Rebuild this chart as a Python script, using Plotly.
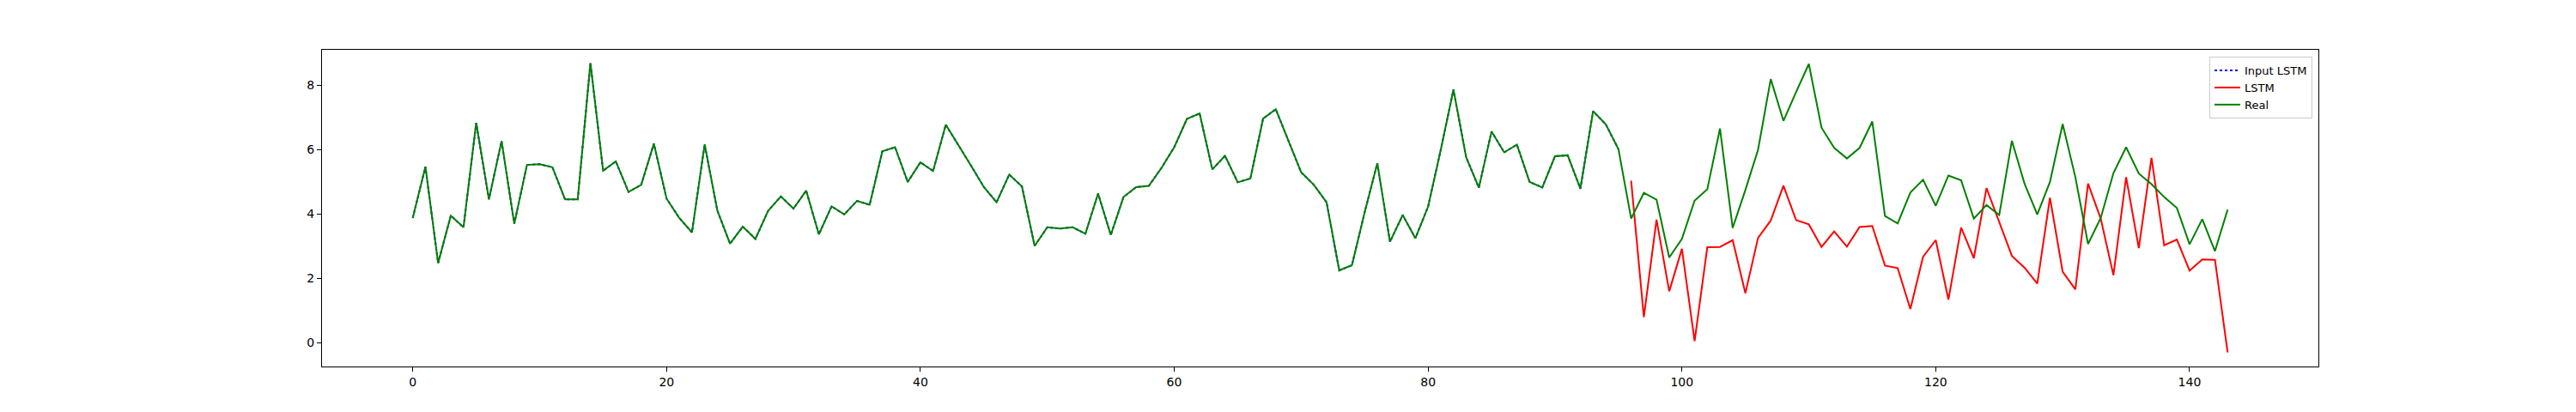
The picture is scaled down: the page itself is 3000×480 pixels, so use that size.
import plotly.graph_objects as go

# Real series, index 0..143
real = [3.88, 5.47, 2.48, 3.95, 3.59, 6.84, 4.46, 6.27, 3.70, 5.53,
        5.55, 5.46, 4.46, 4.46, 8.70, 5.35, 5.64, 4.69, 4.91, 6.19,
        4.48, 3.88, 3.43, 6.17, 4.11, 3.08, 3.61, 3.23, 4.10, 4.55,
        4.17, 4.73, 3.37, 4.24, 3.99, 4.41, 4.29, 5.95, 6.08, 5.00,
        5.61, 5.34, 6.78, 6.15, 5.50, 4.84, 4.37, 5.23, 4.86, 3.01,
        3.59, 3.55, 3.59, 3.39, 4.64, 3.35, 4.53, 4.84, 4.88, 5.44,
        6.08, 6.96, 7.13, 5.39, 5.81, 4.99, 5.11, 6.97, 7.26, 6.28,
        5.30, 4.91, 4.37, 2.25, 2.41, 4.05, 5.58, 3.14, 3.97, 3.25,
        4.23, 6.00, 7.87, 5.77, 4.82, 6.57, 5.92, 6.16, 5.00, 4.83,
        5.80, 5.83, 4.79, 7.20, 6.79, 6.02, 3.86, 4.66, 4.45, 2.65,
        3.23, 4.42, 4.77, 6.66, 3.57, 4.75, 6.00, 8.20, 6.90, 7.80,
        8.67, 6.69, 6.06, 5.73, 6.06, 6.88, 3.94, 3.71, 4.67, 5.07,
        4.26, 5.20, 5.05, 3.86, 4.28, 3.97, 6.28, 4.94, 3.99, 5.00,
        6.80, 5.15, 3.07, 3.88, 5.27, 6.08, 5.26, 4.93, 4.53, 4.19,
        3.06, 3.84, 2.85, 4.14]

# LSTM prediction, index 96..143
lstm_start = 96
lstm = [5.04, 0.80, 3.83, 1.60, 2.92, 0.05, 2.97, 2.98, 3.19, 1.54,
        3.26, 3.80, 4.88, 3.81, 3.68, 2.98, 3.46, 2.99, 3.60, 3.63,
        2.40, 2.32, 1.05, 2.67, 3.19, 1.34, 3.58, 2.63, 4.81, 3.76,
        2.70, 2.33, 1.84, 4.51, 2.21, 1.66, 4.95, 3.86, 2.10, 5.15,
        2.94, 5.75, 3.03, 3.21, 2.24, 2.59, 2.58, -0.30]

# Input LSTM: the known part fed to the model
input_lstm = real[:lstm_start]

x_real = list(range(len(real)))
x_input = list(range(len(input_lstm)))
x_lstm = list(range(lstm_start, lstm_start + len(lstm)))

fig = go.Figure()
fig.add_trace(go.Scatter(x=x_input, y=input_lstm, mode='lines', name='Input LSTM',
                         line=dict(color='blue', width=2, dash='dot')))
fig.add_trace(go.Scatter(x=x_lstm, y=lstm, mode='lines', name='LSTM',
                         line=dict(color='red', width=2)))
fig.add_trace(go.Scatter(x=x_real, y=real, mode='lines', name='Real',
                         line=dict(color='green', width=2)))

axis_style = dict(showgrid=False, zeroline=False, showline=True, linecolor='black',
                  linewidth=1, mirror=True, ticks='outside', ticklen=5, tickwidth=1,
                  tickcolor='black', tickfont=dict(family='DejaVu Sans', size=14, color='black'))

fig.update_xaxes(range=[-7.15, 150.15], tickvals=[0, 20, 40, 60, 80, 100, 120, 140], **axis_style)
fig.update_yaxes(range=[-0.74, 9.11], tickvals=[0, 2, 4, 6, 8], **axis_style)

fig.update_layout(
    width=3000, height=480,
    margin=dict(l=375, r=300, t=58, b=53),
    plot_bgcolor='white', paper_bgcolor='white',
    font=dict(family='DejaVu Sans', size=14, color='black'),
    legend=dict(x=0.997, y=0.978, xanchor='right', yanchor='top',
                bordercolor='#cccccc', borderwidth=1, bgcolor='rgba(255,255,255,0.8)',
                font=dict(size=13), tracegroupgap=0),
)

# drop the default page margin so the figure sits at the window origin
fig.write_html("out.html", config={'displayModeBar': False},
               post_script="document.body.style.margin='0';")
